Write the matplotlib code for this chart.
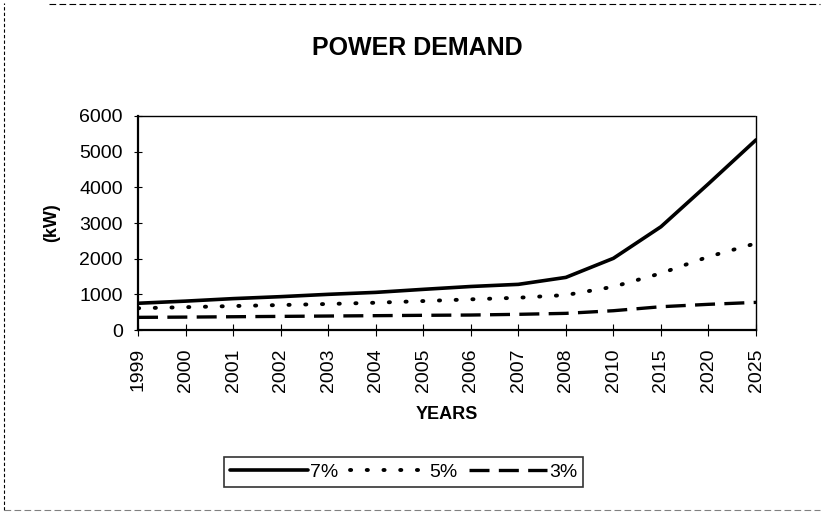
import matplotlib.pyplot as plt
import numpy as np
from matplotlib.lines import Line2D

plt.rcParams["font.family"] = ["Liberation Sans", "DejaVu Sans"]

years = ["1999", "2000", "2001", "2002", "2003", "2004", "2005",
         "2006", "2007", "2008", "2010", "2015", "2020", "2025"]
growth_7 = [750, 810, 880, 935, 1000, 1055, 1140, 1220, 1280, 1475, 2010, 2895, 4100, 5330]
growth_5 = [610, 640, 672, 700, 730, 765, 812, 860, 905, 980, 1213, 1590, 2055, 2430]
growth_3 = [355, 362, 372, 382, 392, 402, 412, 420, 440, 467, 541, 653, 720, 775]
series_labels = ["7%", "5%", "3%"]

fig = plt.figure(figsize=(8.24, 5.13), dpi=100)
ax = fig.add_axes([0.1675, 0.3567, 0.75, 0.4172])

x = np.arange(len(years))
ax.plot(x, growth_7, color="black", lw=2.6, solid_capstyle="round", label=series_labels[0])
ax.plot(x, growth_5, color="black", lw=2.8, linestyle=(0, (0.3, 4.0)),
        dash_capstyle="round", label=series_labels[1])
ax.plot(x, growth_3, color="black", lw=2.4, linestyle=(0, (6.0, 2.8)),
        label=series_labels[2])

ax.set_xlim(0, len(years) - 1)
ax.set_ylim(0, 6000)
ax.set_xticks(x)
ax.set_xticklabels(years, rotation=90, fontsize=14)
ax.set_yticks(np.arange(0, 6001, 1000))
ax.tick_params(axis="y", labelsize=14, direction="inout", length=6, pad=8)
ax.tick_params(axis="x", direction="inout", length=8, pad=9)

for side in ["top", "right"]:
    ax.spines[side].set_linestyle((0, (1.5, 1.0)))
    ax.spines[side].set_linewidth(1.0)
for side in ["left", "bottom"]:
    ax.spines[side].set_linewidth(1.6)

ax.set_xlabel("YEARS", fontsize=13, fontweight="bold", labelpad=10)
ax.set_ylabel("(kW)", fontsize=13, fontweight="bold", labelpad=14)

fig.text(0.506, 0.907, "POWER DEMAND", fontsize=18, fontweight="bold",
         ha="center", va="center")

leg = fig.legend(loc="center", bbox_to_anchor=(0.49, 0.08), ncol=3, fontsize=14,
                 handlelength=4.0, handletextpad=0.1, columnspacing=0.6,
                 frameon=True, fancybox=False, borderpad=0.3, borderaxespad=0)
leg.get_frame().set_edgecolor("black")
leg.get_frame().set_linewidth(1.2)

# scanned page border
fig.add_artist(Line2D([0.005, 0.005], [0.005, 0.995], transform=fig.transFigure,
                      color="black", lw=0.8, linestyle=(0, (3, 2))))
fig.add_artist(Line2D([0.06, 0.995], [0.993, 0.993], transform=fig.transFigure,
                      color="black", lw=0.8, linestyle=(0, (6, 3))))
fig.add_artist(Line2D([0.005, 0.995], [0.006, 0.006], transform=fig.transFigure,
                      color="gray", lw=0.8, linestyle=(0, (6, 3))))

fig.savefig("out.png", dpi=100)
